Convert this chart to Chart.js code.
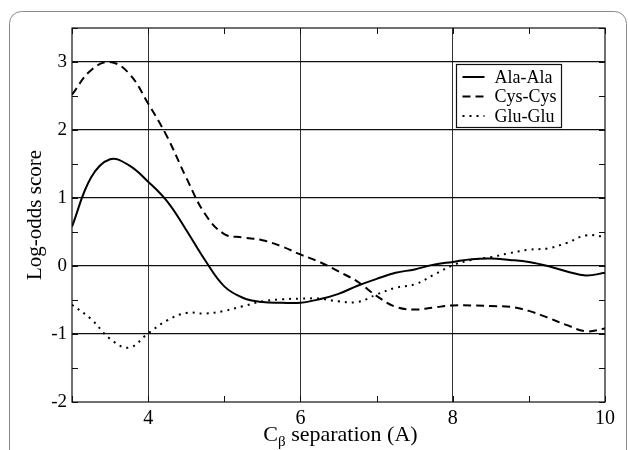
<!DOCTYPE html>
<html>
<head>
<meta charset="utf-8">
<script src="https://cdn.jsdelivr.net/npm/chart.js@4"></script>
<style>
  html, body { margin: 0; padding: 0; background: #fff; }
  #wrap { width: 628px; height: 450px; }
</style>
</head>
<body>
<div id="wrap"><canvas id="myChart" width="628" height="450"></canvas></div>
<script>
// separation in Angstrom, every 0.25
const separation = [3, 3.25, 3.5, 3.75, 4, 4.25, 4.5, 4.75, 5, 5.25, 5.5, 5.75, 6, 6.25, 6.5,
  6.75, 7, 7.25, 7.5, 7.75, 8, 8.25, 8.5, 8.75, 9, 9.25, 9.5, 9.75, 10];
const alaAla = [0.58, 1.3, 1.57, 1.48, 1.24, 0.95, 0.53, 0.08, -0.3, -0.47, -0.53, -0.54, -0.54,
  -0.49, -0.41, -0.29, -0.19, -0.1, -0.05, 0.02, 0.06, 0.1, 0.11, 0.09, 0.06, 0.0, -0.08, -0.14, -0.1];
const cysCys = [2.52, 2.88, 3.0, 2.83, 2.39, 1.9, 1.3, 0.76, 0.47, 0.42, 0.38, 0.29, 0.17, 0.06,
  -0.08, -0.23, -0.44, -0.6, -0.64, -0.61, -0.58, -0.58, -0.59, -0.6, -0.66, -0.76, -0.87, -0.96, -0.92];
const gluGlu = [-0.57, -0.78, -1.07, -1.2, -0.99, -0.8, -0.69, -0.7, -0.66, -0.59, -0.52, -0.49,
  -0.48, -0.48, -0.52, -0.53, -0.42, -0.32, -0.27, -0.13, 0.01, 0.09, 0.13, 0.19, 0.24, 0.26, 0.34, 0.45, 0.43];
const seriesNames = ['Ala-Ala', 'Cys-Cys', 'Glu-Glu'];
const xLabels = [4, 6, 8, 10];
const yLabels = [-2, -1, 0, 1, 2, 3];

const serif = '"Liberation Serif", "DejaVu Serif", serif';

function pts(ys) {
  return separation.map((x, i) => ({ x: x, y: ys[i] }));
}

// frame, plot box, inner ticks, legend and x title
const decor = {
  id: 'decor',
  beforeDraw(chart) {
    const c = chart.ctx;
    c.save();
    c.strokeStyle = '#8a8a8a';
    c.lineWidth = 1;
    c.beginPath();
    c.roundRect(9.5, 11.5, 617, 460, 12);
    c.stroke();
    c.restore();
  },
  afterDraw(chart) {
    const c = chart.ctx;
    const a = chart.chartArea;
    const xs = chart.scales.x, ys = chart.scales.y;
    c.save();
    c.strokeStyle = '#111';
    c.lineWidth = 1.2;
    c.strokeRect(a.left, a.top, a.right - a.left, a.bottom - a.top);

    c.lineWidth = 1;
    c.beginPath();
    xs.ticks.forEach(t => {
      const px = Math.round(xs.getPixelForValue(t.value)) + 0.5;
      c.moveTo(px, a.bottom); c.lineTo(px, a.bottom - 6);
      c.moveTo(px, a.top); c.lineTo(px, a.top + 6);
    });
    ys.ticks.forEach(t => {
      const py = Math.round(ys.getPixelForValue(t.value)) + 0.5;
      c.moveTo(a.left, py); c.lineTo(a.left + 6, py);
      c.moveTo(a.right, py); c.lineTo(a.right - 6, py);
    });
    c.stroke();

    // legend box
    const lx = 456.5, ly = 64.5, lw = 105, lh = 63;
    c.fillStyle = '#fff';
    c.fillRect(lx, ly, lw, lh);
    c.strokeStyle = '#111';
    c.lineWidth = 1.2;
    c.strokeRect(lx, ly, lw, lh);
    c.font = '18px ' + serif;
    c.textBaseline = 'middle';
    c.textAlign = 'left';
    chart.data.datasets.forEach((ds, i) => {
      const y = ly + 12.5 + i * 19.5;
      c.strokeStyle = '#000';
      c.lineWidth = ds.borderWidth;
      c.setLineDash(ds.borderDash || []);
      c.beginPath();
      c.moveTo(lx + 6, y); c.lineTo(lx + 28, y);
      c.stroke();
      c.setLineDash([]);
      c.fillStyle = '#000';
      c.fillText(ds.label, lx + 38, y + 1);
    });

    // x axis title with subscript beta
    c.fillStyle = '#000';
    c.textBaseline = 'alphabetic';
    const big = '22px ' + serif, small = '15px ' + serif;
    const rest = ' separation (A)';
    c.font = big;
    const wC = c.measureText('C').width, wR = c.measureText(rest).width;
    c.font = small;
    const wB = c.measureText('\u03B2').width;
    let x0 = (a.left + a.right) / 2 - (wC + wB + wR) / 2 + 2;
    const base = 441;
    c.font = big; c.fillText('C', x0, base);
    c.font = small; c.fillText('\u03B2', x0 + wC, base + 5);
    c.font = big; c.fillText(rest, x0 + wC + wB, base);
    c.restore();
  }
};

const ctx = document.getElementById('myChart');
new Chart(ctx, {
  type: 'line',
  data: {
    datasets: [
      { label: seriesNames[0], data: pts(alaAla), borderColor: '#000', borderWidth: 2 },
      { label: seriesNames[1], data: pts(cysCys), borderColor: '#000', borderWidth: 2, borderDash: [8, 5] },
      { label: seriesNames[2], data: pts(gluGlu), borderColor: '#000', borderWidth: 2, borderDash: [2, 5] }
    ]
  },
  options: {
    responsive: false,
    animation: false,
    devicePixelRatio: 1,
    layout: { padding: { top: 28, right: 23, left: 0, bottom: 0 } },
    elements: {
      point: { radius: 0 },
      line: { tension: 0.4, fill: false }
    },
    plugins: { legend: { display: false }, tooltip: { enabled: false } },
    scales: {
      x: {
        type: 'linear',
        min: 3, max: 10,
        border: { display: false },
        grid: {
          drawTicks: false,
          lineWidth: 1,
          color: c => (xLabels.includes(c.tick.value) && c.tick.value < 10) ? '#333' : 'rgba(0,0,0,0)'
        },
        ticks: {
          stepSize: 1,
          padding: 5,
          maxRotation: 0,
          autoSkip: false,
          color: '#000',
          font: { family: serif, size: 20 },
          callback: v => xLabels.includes(v) ? String(v) : ''
        },
        afterFit: s => { s.height = 48; }
      },
      y: {
        min: -2, max: 3.5,
        border: { display: false },
        grid: {
          drawTicks: false,
          lineWidth: 1.3,
          color: c => (yLabels.includes(c.tick.value) && c.tick.value > -2) ? '#111' : 'rgba(0,0,0,0)'
        },
        ticks: {
          stepSize: 0.5,
          padding: 5,
          autoSkip: false,
          color: '#000',
          font: { family: serif, size: 19 },
          callback: v => yLabels.includes(v) ? String(v) : ''
        },
        title: {
          display: true,
          text: 'Log-odds score',
          color: '#000',
          font: { family: serif, size: 21 },
          padding: { top: 23, bottom: 0 }
        },
        afterFit: s => { s.width = 72; }
      }
    }
  },
  plugins: [decor]
});
</script>
</body>
</html>
